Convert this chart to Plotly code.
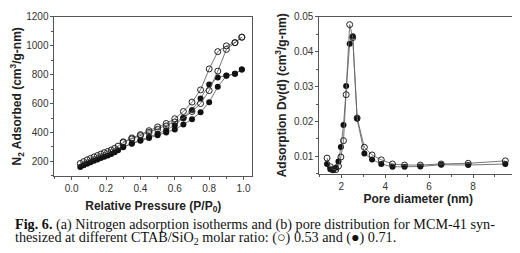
import plotly.graph_objects as go

# ---- data: (a) nitrogen isotherms ----
p_ads = [0.05, 0.07, 0.09, 0.11, 0.13, 0.15, 0.17, 0.19, 0.21, 0.23, 0.25, 0.27, 0.30,
         0.35, 0.40, 0.45, 0.50, 0.55, 0.60, 0.65, 0.70, 0.75, 0.80, 0.85, 0.90, 0.95, 0.99]
open_ads = [185, 198, 210, 220, 230, 240, 250, 260, 268, 278, 290, 305, 330,
            355, 378, 400, 422, 445, 472, 500, 545, 600, 690, 825, 975, 1022, 1060]
filled_ads = [160, 172, 183, 193, 203, 212, 222, 232, 240, 250, 262, 276, 298,
              322, 342, 362, 380, 400, 420, 455, 492, 540, 610, 716, 792, 806, 836]
p_des = [0.99, 0.95, 0.90, 0.85, 0.80, 0.75, 0.70, 0.65, 0.60, 0.55, 0.50, 0.45, 0.40, 0.35, 0.30]
open_des = [1060, 1022, 1000, 960, 840, 695, 610, 545, 495, 462, 438, 412, 385, 362, 335]
filled_des = [836, 806, 795, 780, 732, 636, 555, 500, 450, 415, 390, 368, 348, 325, 300]

# ---- data: (b) pore size distribution ----
d_open = [1.35, 1.50, 1.62, 1.75, 1.87, 1.98, 2.10, 2.22, 2.38, 2.52, 2.72, 3.05, 3.40, 3.82, 4.33, 4.88, 5.60, 6.55, 7.78, 9.47]
dv_open = [0.0095, 0.0070, 0.0062, 0.0062, 0.0072, 0.0098, 0.0145, 0.0277, 0.0478, 0.0441, 0.0210,
           0.0126, 0.0104, 0.0090, 0.0078, 0.0075, 0.0075, 0.0078, 0.0080, 0.0087]
d_filled = [1.35, 1.50, 1.62, 1.75, 1.87, 1.98, 2.10, 2.22, 2.38, 2.52, 2.72, 3.05, 3.40, 3.82, 4.33, 4.88, 5.60, 6.55, 7.78, 9.47]
dv_filled = [0.0078, 0.0063, 0.0060, 0.0067, 0.0085, 0.0127, 0.0190, 0.0302, 0.0423, 0.0445, 0.0208,
             0.0108, 0.0091, 0.0078, 0.0070, 0.0070, 0.0071, 0.0076, 0.0075, 0.0078]

x1_ticks = [0, 0.2, 0.4, 0.6, 0.8, 1.0]
x1_labels = ["0.0", "0.2", "0.4", "0.6", "0.8", "1.0"]
y1_ticks = [200, 400, 600, 800, 1000, 1200]
x2_ticks = [2, 4, 6, 8, 10]
y2_ticks = [0.01, 0.02, 0.03, 0.04, 0.05]
y2_labels = ["0.01", "0.02", "0.03", "0.04", "0.05"]

caption1 = "<b>Fig. 6.</b> (a) Nitrogen adsorption isotherms and (b) pore distribution for MCM-41 syn-"
caption2 = "thesized at different CTAB/SiO<sub>2</sub> molar ratio: (○) 0.53 and (●) 0.71."

LINE = dict(color="#666666", width=0.9)
OPEN = dict(symbol="circle-open", size=6, color="#222222", line=dict(width=1, color="#222222"))
FILL = dict(symbol="circle", size=6, color="#111111")

fig = go.Figure()
def add(x, y, mk, xa, ya):
    fig.add_trace(go.Scatter(x=x, y=y, mode="lines+markers", line=LINE, marker=mk,
                             xaxis=xa, yaxis=ya, showlegend=False, cliponaxis=False))

add(p_ads, filled_ads, FILL, "x", "y")
add(p_des, filled_des, FILL, "x", "y")
add(p_ads, open_ads, OPEN, "x", "y")
add(p_des, open_des, OPEN, "x", "y")
add(d_filled, dv_filled, FILL, "x2", "y2")
add(d_open, dv_open, OPEN, "x2", "y2")

W, H = 520, 253
def px(x): return x / W
def py(y): return 1 - y / H

axis_common = dict(showline=True, linecolor="#555555", linewidth=1, mirror=True,
                   ticks="outside", ticklen=3, tickcolor="#555555", showgrid=False, zeroline=False,
                   tickmode="array", ticklabeloverflow="allow",
                   tickfont=dict(family="Liberation Sans", size=10, color="#333333"))
title_font = dict(family="Liberation Sans", size=12, color="#222222")

fig.update_layout(
    width=W, height=H, margin=dict(l=0, r=0, t=0, b=0),
    paper_bgcolor="white", plot_bgcolor="white",
    xaxis=dict(domain=[px(47), px(247)], range=[-0.1, 1.05], tickvals=x1_ticks, ticktext=x1_labels,
               minor=dict(ticks="outside", ticklen=2, dtick=0.1, tickcolor="#555555"),
               title=dict(text="<b>Relative Pressure (P/P<sub>0</sub>)</b>", font=title_font, standoff=8),
               anchor="y", **axis_common),
    yaxis=dict(domain=[py(166), py(4)], range=[100, 1200.5], tickvals=y1_ticks,
               ticktext=[str(v) for v in y1_ticks],
               minor=dict(ticks="outside", ticklen=2, dtick=100, tickcolor="#555555"),
               title=dict(text="<b>N<sub>2</sub> Adsorbed (cm<sup>3</sup>/g-nm)</b>", font=title_font, standoff=4),
               anchor="x", **axis_common),
    xaxis2=dict(domain=[px(315), px(515)], range=[1, 10.005], tickvals=x2_ticks,
                ticktext=[str(v) for v in x2_ticks],
                minor=dict(ticks="outside", ticklen=2, dtick=1, tickcolor="#555555"),
                title=dict(text="<b>Pore diameter (nm)</b>", font=title_font, standoff=2),
                anchor="y2", **axis_common),
    yaxis2=dict(domain=[py(164), py(4)], range=[0.005, 0.05002], tickvals=y2_ticks, ticktext=y2_labels,
                minor=dict(ticks="outside", ticklen=2, dtick=0.005, tickcolor="#555555"),
                title=dict(text="<b>Adsorption Dv(d) (cm<sup>3</sup>/g-nm)</b>", font=title_font, standoff=4),
                anchor="x2", **axis_common),
)

cap_font = dict(family="Liberation Serif", size=14.2, color="#111111")
fig.add_annotation(x=px(5), y=py(216), xref="paper", yref="paper", text=caption1, showarrow=False,
                   xanchor="left", yanchor="middle", font=cap_font)
fig.add_annotation(x=px(5), y=py(230), xref="paper", yref="paper", text=caption2, showarrow=False,
                   xanchor="left", yanchor="middle", font=cap_font)

fig.write_html("out.html")
